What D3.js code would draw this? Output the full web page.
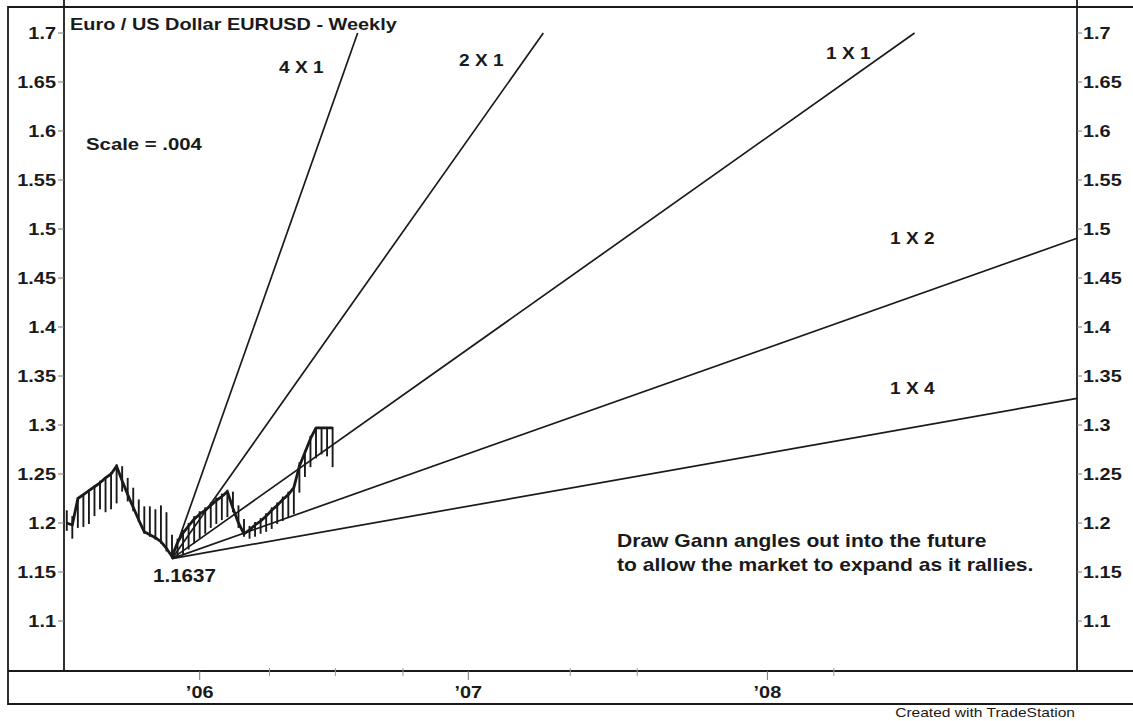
<!DOCTYPE html>
<html>
<head>
<meta charset="utf-8">
<script src="https://cdn.jsdelivr.net/npm/d3@7"></script>
<style>
  body { margin: 0; background: #fff; }
  svg { display: block; }
  text { font-family: "Liberation Sans", Arial, sans-serif; fill: #1a1a1a; }
</style>
</head>
<body>
<svg width="1133" height="721"></svg>
<script>
// weekly EURUSD bars, week 0 = first week of Jul 2005
var barHigh = [1.213, 1.207, 1.226, 1.229, 1.234, 1.238, 1.243, 1.247, 1.252, 1.260,
               1.258, 1.246, 1.236, 1.224, 1.217, 1.217, 1.214, 1.218, 1.211, 1.188,
               1.184, 1.193, 1.200, 1.207, 1.212, 1.216, 1.221, 1.226, 1.230, 1.234,
               1.232, 1.218, 1.204, 1.197, 1.201, 1.205, 1.210, 1.216, 1.221, 1.227,
               1.232, 1.238, 1.262, 1.274, 1.289, 1.298, 1.298, 1.298, 1.298];
var barLow  = [1.192, 1.184, 1.195, 1.196, 1.199, 1.207, 1.214, 1.211, 1.214, 1.220,
               1.232, 1.222, 1.212, 1.201, 1.189, 1.186, 1.183, 1.179, 1.171, 1.1637,
               1.166, 1.168, 1.173, 1.179, 1.184, 1.189, 1.195, 1.199, 1.203, 1.206,
               1.211, 1.195, 1.186, 1.184, 1.186, 1.189, 1.191, 1.194, 1.199, 1.202,
               1.205, 1.209, 1.231, 1.247, 1.257, 1.266, 1.270, 1.268, 1.257];
var barClose = [1.200, 1.198, 1.225, 1.229, 1.233, 1.237, 1.241, 1.246, 1.250, 1.258,
                1.243, 1.229, 1.216, 1.203, 1.191, 1.188, 1.185, 1.181, 1.174, 1.166,
                1.180, 1.190, 1.197, 1.204, 1.209, 1.213, 1.218, 1.223, 1.227, 1.232,
                1.215, 1.200, 1.189, 1.193, 1.198, 1.202, 1.207, 1.213, 1.218, 1.224,
                1.229, 1.236, 1.258, 1.272, 1.286, 1.297, 1.297, 1.297, 1.297];

var priceTicks = [1.1, 1.15, 1.2, 1.25, 1.3, 1.35, 1.4, 1.45, 1.5, 1.55, 1.6, 1.65, 1.7];
var yearLabels = ["\u201906", "\u201907", "\u201908"];
var yearBars = [24, 72.5, 126.5];
var minorBars = [36.6, 48.5, 60.7, 90.9, 103, 138.5];

var gannScale = 0.004;
var gannPivotBar = 19, gannPivot = 1.1637;
var gannRatios = [4, 2, 1, 0.5, 0.25];
var gannNames = ["4 X 1", "2 X 1", "1 X 1", "1 X 2", "1 X 4"];

var svg = d3.select("svg"),
    left = 64, right = 1077, top = 7, bottom = 671,
    sx = 1.17;

var x = d3.scaleLinear().domain([-0.5, 182.4]).range([left, right]),
    y = d3.scaleLinear().domain([1.1, 1.7]).range([621, 33]);

function label(px, py, txt, size, weight, anchor) {
  return svg.append("text")
    .attr("transform", "translate(" + px + "," + py + ") scale(" + sx + ",1)")
    .attr("text-anchor", anchor || "start")
    .style("font-size", size + "px")
    .style("font-weight", weight || "bold")
    .text(txt);
}

// frame
var ink = "#1a1a1a";
svg.append("path")
  .attr("d", "M1140,7H8V704H1140")
  .attr("fill", "none").attr("stroke", ink).attr("stroke-width", 1.8);
svg.append("line").attr("x1", 8).attr("x2", 1140).attr("y1", bottom).attr("y2", bottom)
  .attr("stroke", ink).attr("stroke-width", 1.8);
[left, right].forEach(function(px) {
  svg.append("line").attr("x1", px).attr("x2", px).attr("y1", top).attr("y2", bottom)
    .attr("stroke", ink).attr("stroke-width", 1.8);
});

// price axes, both sides
priceTicks.forEach(function(p) {
  var py = y(p);
  svg.append("line").attr("x1", left - 6).attr("x2", left).attr("y1", py).attr("y2", py)
    .attr("stroke", "#777").attr("stroke-width", 1);
  svg.append("line").attr("x1", right).attr("x2", right + 5).attr("y1", py).attr("y2", py)
    .attr("stroke", "#777").attr("stroke-width", 1);
  label(left - 8, py + 6, d3.format("")(p), 17, "bold", "end");
  label(right + 6, py + 6, d3.format("")(p), 17, "bold", "start");
});

// time axis
yearBars.forEach(function(b, i) {
  var px = x(b);
  svg.append("line").attr("x1", px).attr("x2", px).attr("y1", bottom).attr("y2", bottom + 9)
    .attr("stroke", "#777");
  label(px, 698, yearLabels[i], 17, "bold", "middle");
});
minorBars.forEach(function(b) {
  var px = x(b);
  svg.append("line").attr("x1", px).attr("x2", px).attr("y1", bottom - 3).attr("y2", bottom + 5)
    .attr("stroke", "#999");
});

// gann fan from the low
var gann = gannRatios.map(function(r, i) {
  var endBar = Math.min(x.domain()[1], gannPivotBar + (1.7 - gannPivot) / (gannScale * r));
  return { name: gannNames[i], x0: gannPivotBar, y0: gannPivot, x1: endBar,
           y1: gannPivot + (endBar - gannPivotBar) * gannScale * r };
});
svg.append("g").selectAll("line")
  .data(gann)
  .enter().append("line")
  .attr("x1", function(d) { return x(d.x0); })
  .attr("y1", function(d) { return y(d.y0); })
  .attr("x2", function(d) { return x(d.x1); })
  .attr("y2", function(d) { return y(d.y1); })
  .attr("stroke", ink).attr("stroke-width", 1.7);

// weekly bars
var idx = d3.range(barHigh.length);
svg.append("g").selectAll("line")
  .data(idx)
  .enter().append("line")
  .attr("x1", function(i) { return x(i); })
  .attr("x2", function(i) { return x(i); })
  .attr("y1", function(i) { return y(barHigh[i]); })
  .attr("y2", function(i) { return y(barLow[i]); })
  .attr("stroke", ink).attr("stroke-width", 1.9);

svg.append("path")
  .datum(idx)
  .attr("fill", "none").attr("stroke", ink).attr("stroke-width", 2.8)
  .attr("stroke-linejoin", "round")
  .attr("d", d3.line().x(function(i) { return x(i); }).y(function(i) { return y(barClose[i]); }));

// annotations
label(70, 30, "Euro / US Dollar EURUSD - Weekly", 17, "bold");
label(86, 150, "Scale = .004", 17.4, "bold");
label(153, 582, "1.1637", 17.6, "bold");
var gannLabelPos = [[279, 73], [459, 66], [826, 59], [890, 244], [890, 394]];
gannNames.forEach(function(n, i) {
  label(gannLabelPos[i][0], gannLabelPos[i][1], n, 16.3, "bold");
});
label(617, 547, "Draw Gann angles out into the future", 18, "bold");
label(617, 571, "to allow the market to expand as it rallies.", 18, "bold");
label(1075, 717, "Created with TradeStation", 13.3, "normal", "end");
</script>
</body>
</html>
